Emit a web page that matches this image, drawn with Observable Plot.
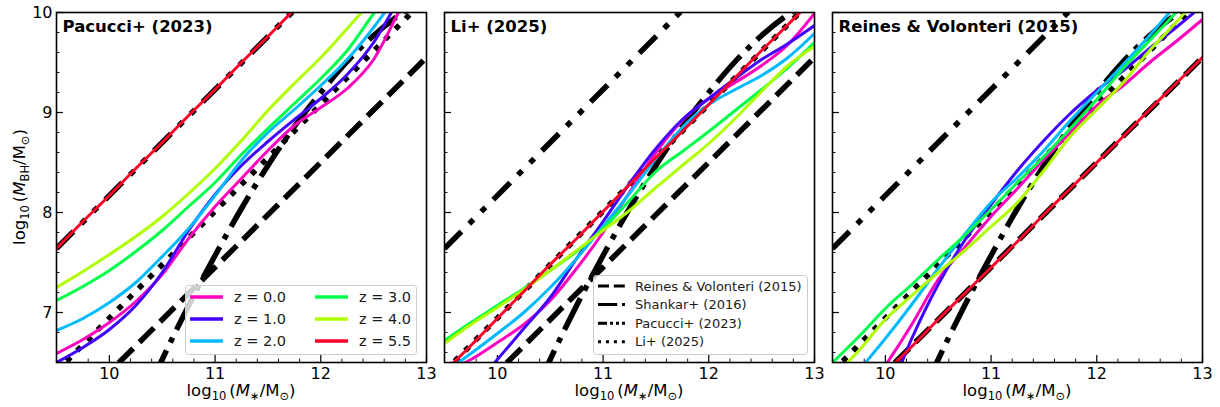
<!DOCTYPE html>
<html>
<head>
<meta charset="utf-8">
<script src="https://cdn.jsdelivr.net/npm/d3@7"></script>
<script src="https://cdn.jsdelivr.net/npm/@observablehq/plot@0.6"></script>
<style>
  html, body { margin: 0; padding: 0; background: white; }
  #fig { position: relative; width: 1220px; height: 407px; background: white; font-family: "DejaVu Sans", sans-serif; }
  #fig svg.plotpanel { position: absolute; top: 0; }
  #overlay { position: absolute; left: 0; top: 0; pointer-events: none; }
</style>
</head>
<body>
<div id="fig"></div>
<script>
// ---------- data ----------
const xGrid = [9.5, 9.75, 10, 10.25, 10.5, 10.75, 11, 11.25, 11.5, 11.75, 12, 12.25, 12.5, 12.75, 13];

const zLabels = ["z = 0.0", "z = 1.0", "z = 2.0", "z = 3.0", "z = 4.0", "z = 5.5"];
const zColors = ["#ff00bf", "#4200ff", "#00baff", "#00ff4b", "#b0ff00", "#ff0029"];

const panelTitles = ["Pacucci+ (2023)", "Li+ (2025)", "Reines & Volonteri (2015)"];

// Panel 1: Pacucci+ (2023)
const p1_z0 = [6.59, 6.73, 6.90, 7.11, 7.38, 7.74, 8.06, 8.34, 8.62, 8.87, 9.05, 9.24, 9.53, 10.03, 10.50];
const p1_z1 = [6.50, 6.65, 6.83, 7.07, 7.40, 7.82, 8.18, 8.47, 8.71, 8.93, 9.14, 9.38, 9.70, 10.15, 10.55];
const p1_z2 = [6.82, 6.94, 7.10, 7.30, 7.56, 7.84, 8.17, 8.52, 8.80, 9.03, 9.27, 9.53, 9.85, 10.22, 10.60];
const p1_z3 = [7.12, 7.26, 7.42, 7.61, 7.82, 8.06, 8.30, 8.58, 8.84, 9.09, 9.34, 9.62, 9.99, 10.35, 10.70];
const p1_z4 = [7.25, 7.41, 7.58, 7.76, 7.96, 8.19, 8.44, 8.72, 9.02, 9.29, 9.55, 9.84, 10.14, 10.45, 10.75];
const p1_z5 = [7.64, 7.91, 8.17, 8.44, 8.70, 8.97, 9.23, 9.50, 9.76, 10.03, 10.29, 10.56, 10.82, 11.09, 11.35];

// Panel 2: Li+ (2025)
const p2_z0 = [6.40, 6.53, 6.70, 6.88, 7.12, 7.44, 7.80, 8.20, 8.60, 8.92, 9.14, 9.30, 9.47, 9.68, 9.99];
const p2_z1 = [5.95, 6.24, 6.53, 6.84, 7.15, 7.54, 7.91, 8.29, 8.64, 8.93, 9.14, 9.34, 9.53, 9.69, 9.87];
const p2_z2 = [6.40, 6.59, 6.79, 7.00, 7.25, 7.54, 7.86, 8.19, 8.54, 8.85, 9.08, 9.23, 9.37, 9.55, 9.79];
const p2_z3 = [6.72, 6.90, 7.07, 7.24, 7.42, 7.61, 7.84, 8.12, 8.41, 8.61, 8.81, 9.02, 9.23, 9.45, 9.70];
const p2_z4 = [6.69, 6.88, 7.05, 7.23, 7.42, 7.62, 7.82, 8.02, 8.25, 8.47, 8.69, 8.94, 9.21, 9.47, 9.66];
const p2_z5 = [6.41, 6.67, 6.94, 7.21, 7.48, 7.74, 8.01, 8.28, 8.55, 8.81, 9.08, 9.35, 9.62, 9.88, 10.15];

// Panel 3: Reines & Volonteri (2015)
const p3_z0 = [5.75, 6.10, 6.47, 6.88, 7.33, 7.65, 7.96, 8.24, 8.53, 8.80, 9.07, 9.27, 9.50, 9.71, 9.93];
const p3_z1 = [5.20, 5.60, 6.10, 6.74, 7.28, 7.72, 8.08, 8.42, 8.72, 8.99, 9.22, 9.42, 9.64, 9.85, 10.07];
const p3_z2 = [6.10, 6.42, 6.74, 7.08, 7.44, 7.78, 8.10, 8.35, 8.62, 8.92, 9.20, 9.48, 9.77, 10.08, 10.40];
const p3_z3 = [6.50, 6.76, 7.04, 7.28, 7.53, 7.77, 8.03, 8.30, 8.56, 8.84, 9.13, 9.44, 9.72, 10.00, 10.30];
const p3_z4 = [6.35, 6.62, 6.93, 7.17, 7.40, 7.62, 7.86, 8.10, 8.42, 8.76, 9.03, 9.30, 9.62, 9.90, 10.20];
const p3_z5 = [5.88, 6.14, 6.40, 6.66, 6.93, 7.19, 7.45, 7.71, 7.98, 8.24, 8.50, 8.76, 9.03, 9.29, 9.55];

// Reference relations (black lines)
const refLabels = ["Reines & Volonteri (2015)", "Shankar+ (2016)", "Pacucci+ (2023)", "Li+ (2025)"];
const reinesX = [9.5, 13];
const reinesY = [5.88, 9.55];
const shankarX = [10.4, 10.5, 10.75, 11, 11.25, 11.5, 11.75, 12, 12.25, 12.5, 12.75, 13];
const shankarY = [6.30, 6.53, 7.07, 7.57, 8.04, 8.47, 8.86, 9.20, 9.51, 9.77, 9.98, 10.15];
const pacucciX = [9.5, 13];
const pacucciY = [7.64, 11.35];
const liX = [9.5, 13];
const liY = [6.41, 10.15];

// Ticks
const xMajor = [10, 11, 12, 13];
const xMinor = [9.6, 9.8, 10.2, 10.4, 10.6, 10.8, 11.2, 11.4, 11.6, 11.8, 12.2, 12.4, 12.6, 12.8];
const yMajor = [7, 8, 9, 10];
const yMinor = [6.6, 6.8, 7.2, 7.4, 7.6, 7.8, 8.2, 8.4, 8.6, 8.8, 9.2, 9.4, 9.6, 9.8];

// ---------- styles ----------
const refStyles = [
  {dash: "20.4,8.8", legendDash: "11,4.8"},
  {dash: "35.2,8.8,5.5,8.8", legendDash: "19.2,4.8,3,4.8"},
  {dash: "24,11,6,11,6,11", legendDash: "9,3,3,3,3,3"},
  {dash: "5.5,9.1", legendDash: "3,4.95"}
];

const panelCurves = [
  [p1_z0, p1_z1, p1_z2, p1_z3, p1_z4, p1_z5],
  [p2_z0, p2_z1, p2_z2, p2_z3, p2_z4, p2_z5],
  [p3_z0, p3_z1, p3_z2, p3_z3, p3_z4, p3_z5]
];
const refXY = [[reinesX, reinesY], [shankarX, shankarY], [pacucciX, pacucciY], [liX, liY]];

const toRows = (xs, ys) => xs.map((x, i) => ({x, y: ys[i]}));

const PW = 370, PH = 350, MT = 12, MB = 45;
const panelLeft = [56, 444, 832];
const fig = document.getElementById("fig");

panelCurves.forEach((curves, i) => {
  const first = i === 0;
  const ml = first ? 56 : 14;
  const mr = 14;
  const marks = [];
  // inward ticks
  marks.push(Plot.ruleX(xMinor, {x: d => d, insetTop: PH - 3.5, stroke: "black", strokeWidth: 0.9}));
  marks.push(Plot.ruleX(xMajor, {x: d => d, insetTop: PH - 7, stroke: "black", strokeWidth: 1.2}));
  marks.push(Plot.ruleY(yMinor, {y: d => d, insetRight: PW - 3.5, stroke: "black", strokeWidth: 0.9}));
  marks.push(Plot.ruleY(yMajor, {y: d => d, insetRight: PW - 7, stroke: "black", strokeWidth: 1.2}));
  // reference lines
  refXY.forEach(([xs, ys], k) => {
    marks.push(Plot.line(toRows(xs, ys), {
      x: "x", y: "y", stroke: "black", strokeWidth: 5.5,
      strokeDasharray: refStyles[k].dash, strokeLinecap: "butt", strokeLinejoin: "miter",
      curve: "monotone-x", clip: true
    }));
  });
  // model curves
  curves.forEach((ys, k) => {
    marks.push(Plot.line(toRows(xGrid, ys), {
      x: "x", y: "y", stroke: zColors[k], strokeWidth: 3,
      curve: "monotone-x", clip: true
    }));
  });
  marks.push(Plot.frame({stroke: "black", strokeWidth: 1.6}));
  marks.push(Plot.text([panelTitles[i]], {
    text: d => d, frameAnchor: "top-left", textAnchor: "start", lineAnchor: "top",
    dx: 6, dy: 8, fontWeight: "bold", fontSize: 16.5, fill: "black"
  }));

  const svg = Plot.plot({
    width: ml + PW + mr,
    height: MT + PH + MB,
    marginLeft: ml, marginRight: mr, marginTop: MT, marginBottom: MB,
    x: {domain: [9.5, 13], ticks: xMajor, tickSize: 0, tickPadding: 5, tickFormat: d => String(d), label: null},
    y: first
      ? {domain: [6.5, 10], ticks: yMajor, tickSize: 0, tickPadding: 4, tickFormat: d => String(d), label: null}
      : {domain: [6.5, 10], axis: null},
    style: {fontFamily: "DejaVu Sans, sans-serif", fontSize: "16px", color: "black", background: "none", overflow: "visible"},
    marks
  });
  svg.classList.add("plotpanel");
  svg.style.left = (panelLeft[i] - ml) + "px";
  svg.style.position = "absolute";
  svg.style.top = "0px";
  fig.appendChild(svg);
});

// ---------- overlay: axis labels and legends ----------
const NS = "http://www.w3.org/2000/svg";
const overlay = document.createElementNS(NS, "svg");
overlay.setAttribute("id", "overlay");
overlay.setAttribute("width", 1220);
overlay.setAttribute("height", 407);
overlay.style.fontFamily = "DejaVu Sans, sans-serif";
fig.appendChild(overlay);

function el(tag, attrs, parent) {
  const e = document.createElementNS(NS, tag);
  for (const k in attrs) e.setAttribute(k, attrs[k]);
  (parent || overlay).appendChild(e);
  return e;
}
function span(parent, text, attrs) {
  const t = el("tspan", attrs || {}, parent);
  t.textContent = text;
  return t;
}
function mathLabel(parent, sub1) {
  // log_10 ( M_sub1 / M_sun )
  span(parent, "log");
  span(parent, "10", {dy: 4, "font-size": 11.5});
  span(parent, "(", {dy: -4, dx: 3});
  span(parent, "M", {"font-style": "italic"});
  span(parent, sub1, {dy: 4, "font-size": 11.5});
  span(parent, "/M", {dy: -4});
  span(parent, "⊙", {dy: 4, "font-size": 11.5});
  span(parent, ")", {dy: -4});
}

// x labels
panelLeft.forEach(l => {
  const t = el("text", {x: l + PW / 2, y: 396, "text-anchor": "middle", "font-size": 16.5, fill: "black"});
  mathLabel(t, "∗");
});
// y label
{
  const t = el("text", {transform: "translate(25,187) rotate(-90)", "text-anchor": "middle", "font-size": 16.5, fill: "black"});
  mathLabel(t, "BH");
}

// Legend 1 (redshifts)
el("rect", {x: 185.5, y: 285.5, width: 231, height: 69, rx: 3, fill: "white", "fill-opacity": 0.8, stroke: "#cccccc", "stroke-width": 1});
zLabels.forEach((lab, k) => {
  const col = Math.floor(k / 3), row = k % 3;
  const y = 297 + row * 22;
  const x0 = col === 0 ? 190 : 315;
  el("line", {x1: x0, x2: x0 + 33, y1: y, y2: y, stroke: zColors[k], "stroke-width": 3.5});
  const t = el("text", {x: x0 + 44, y: y + 5.2, "font-size": 14.5, fill: "#1a1a1a"});
  t.textContent = lab;
});

// Legend 2 (reference relations)
el("rect", {x: 593.5, y: 275.5, width: 214, height: 79, rx: 3, fill: "white", "fill-opacity": 0.8, stroke: "#cccccc", "stroke-width": 1});
refLabels.forEach((lab, k) => {
  const y = 286 + k * 18.6;
  el("line", {x1: 598, x2: 625, y1: y, y2: y, stroke: "black", "stroke-width": 3, "stroke-dasharray": refStyles[k].legendDash});
  const t = el("text", {x: 635, y: y + 4.6, "font-size": 13, fill: "#1a1a1a"});
  t.textContent = lab;
});
</script>
</body>
</html>
